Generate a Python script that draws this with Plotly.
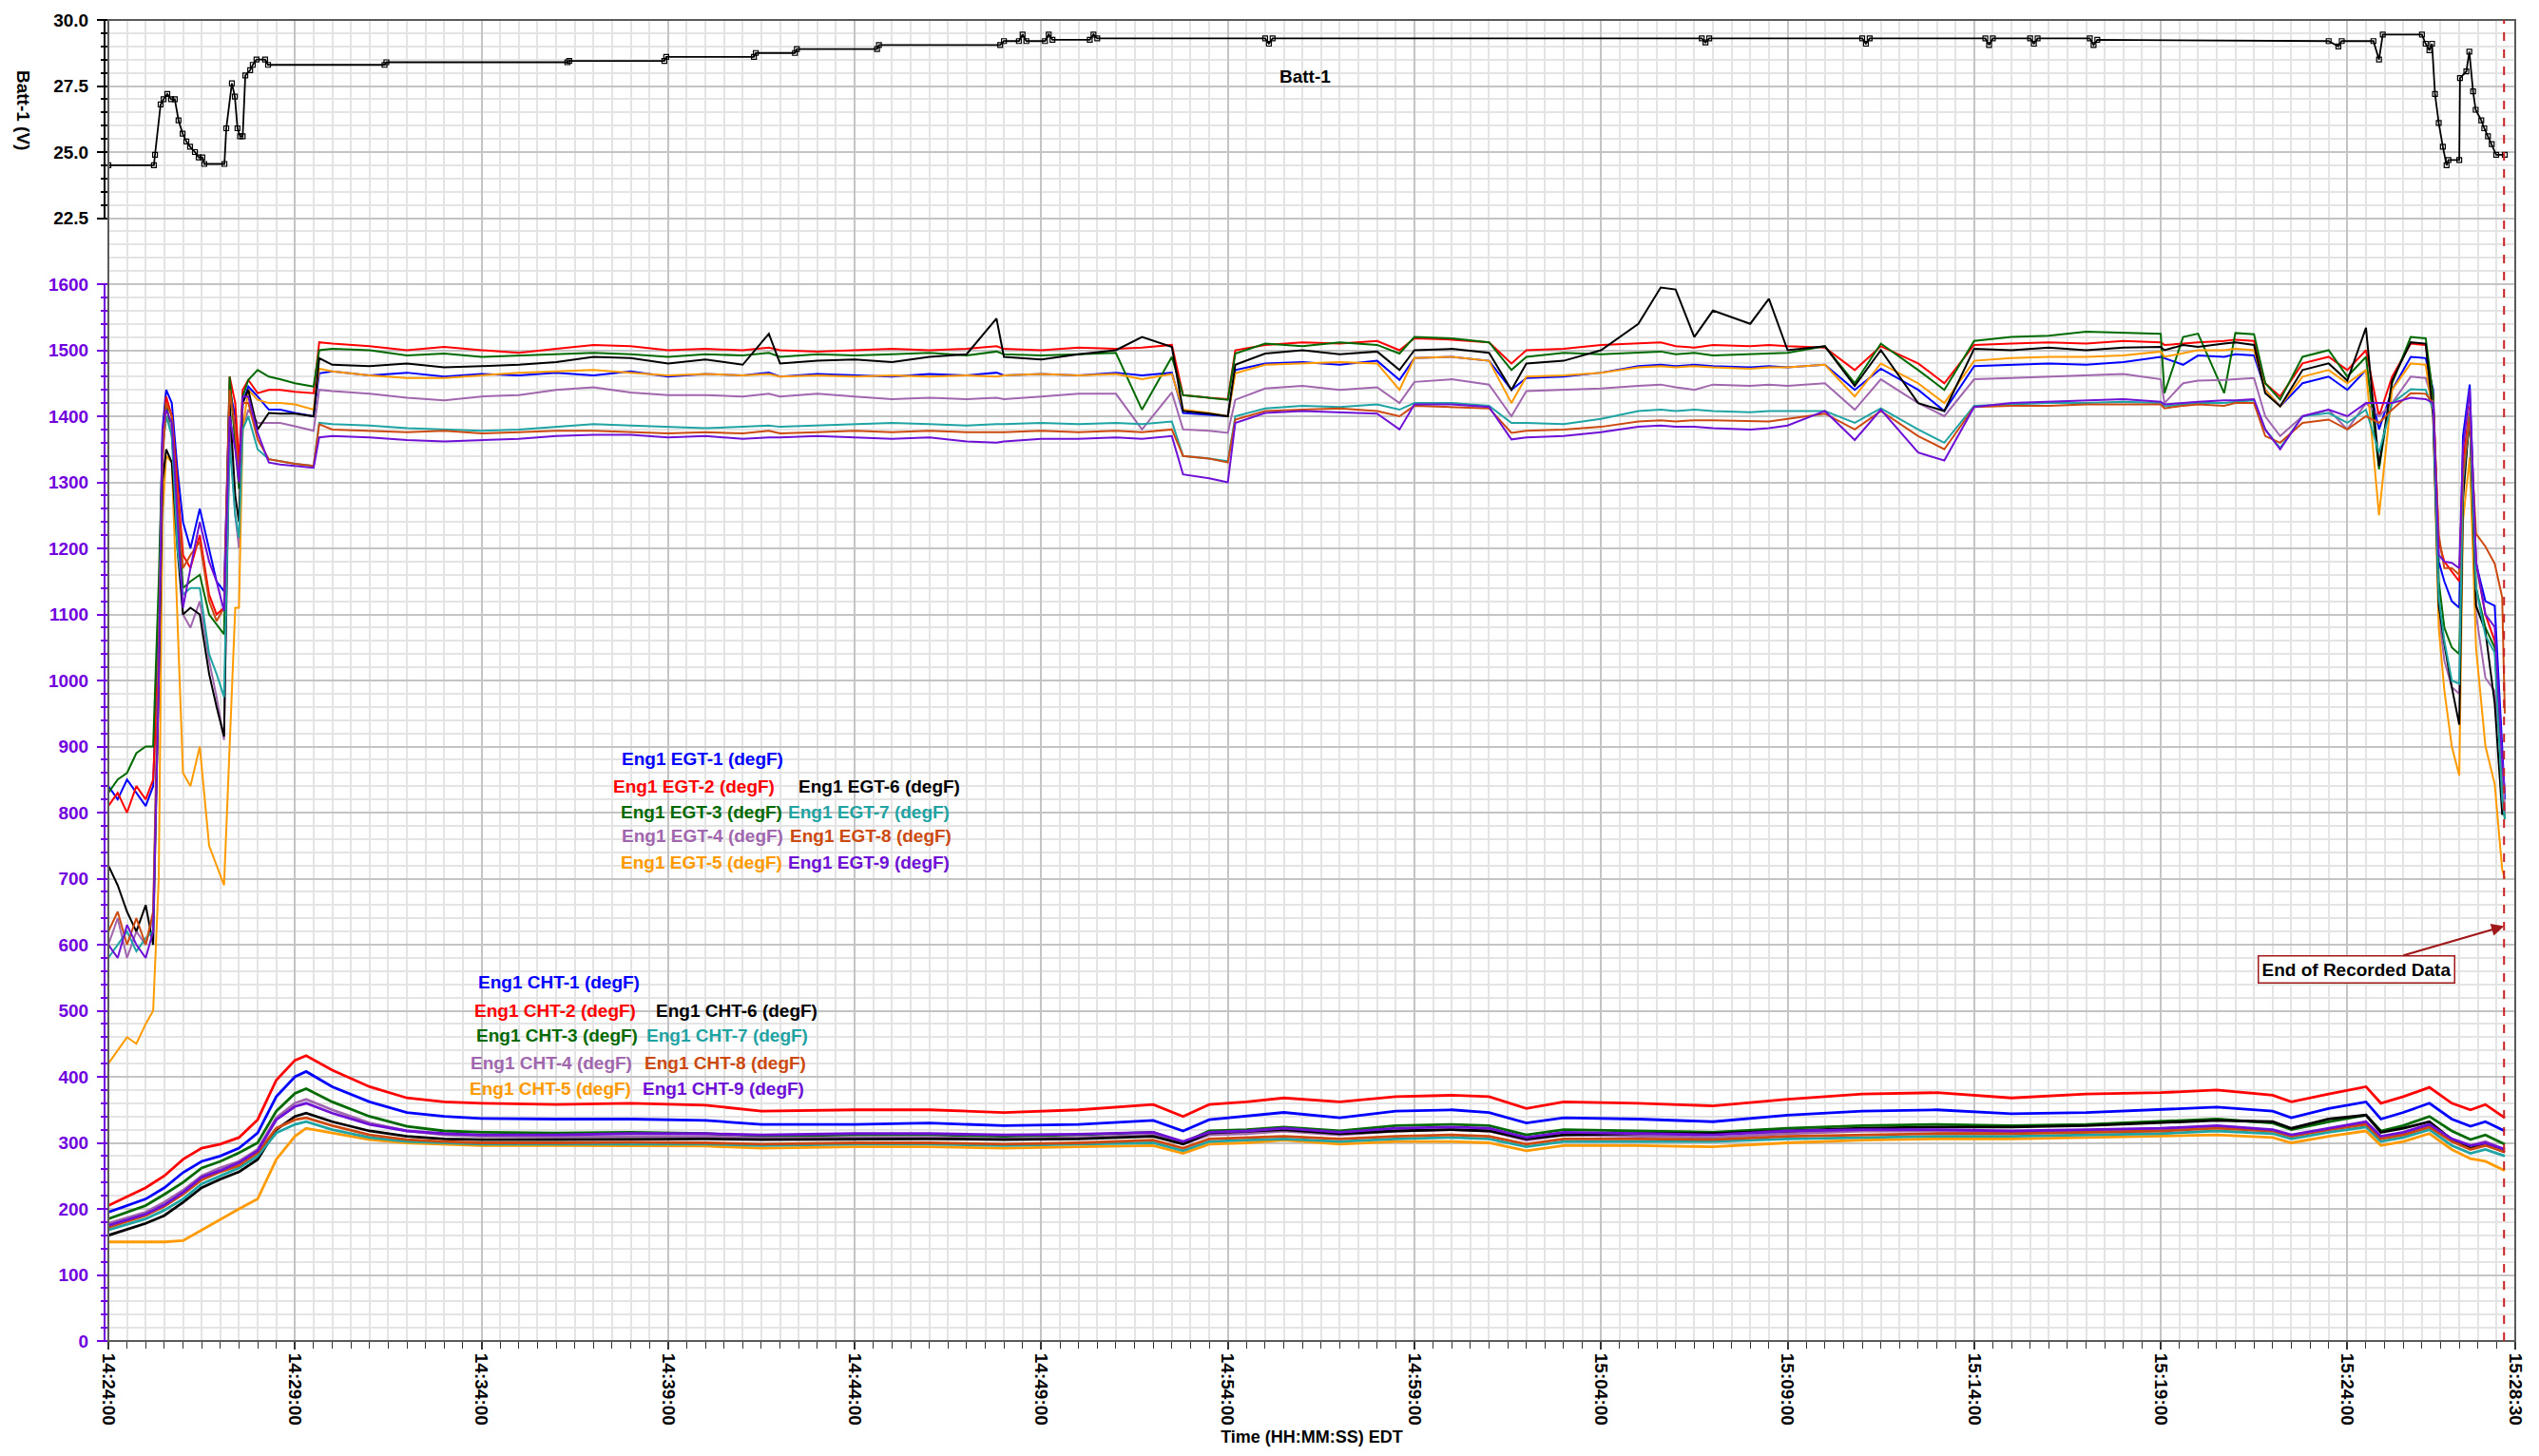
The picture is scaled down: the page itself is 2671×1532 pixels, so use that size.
import pandas as pd
import plotly.graph_objects as go

# ---------------- DATA ----------------
BASE = "2024-01-01 14:24:00"
END_OF_DATA_MIN = 64.2          # dashed marker: end of recorded data (minutes after 14:24:00)
AXIS_END_MIN = 64.5             # 15:28:30

x_tick_labels = ["14:24:00", "14:29:00", "14:34:00", "14:39:00", "14:44:00", "14:49:00",
                 "14:54:00", "14:59:00", "15:04:00", "15:09:00", "15:14:00", "15:19:00",
                 "15:24:00", "15:28:30"]
temp_ticks = [0, 100, 200, 300, 400, 500, 600, 700, 800, 900, 1000, 1100, 1200, 1300, 1400, 1500, 1600]
volt_ticks = [22.5, 25.0, 27.5, 30.0]
volt_tick_labels = ["22.5", "25.0", "27.5", "30.0"]

batt_minutes = [0, 1.22, 1.25, 1.40, 1.48, 1.58, 1.68, 1.78, 1.88, 1.99,
                2.09, 2.19, 2.32, 2.42, 2.52, 2.57, 3.11, 3.16, 3.31, 3.39,
                3.46, 3.53, 3.60, 3.67, 3.80, 3.87, 3.97, 4.20, 4.28, 7.40,
                7.45, 12.30, 12.35, 14.90, 14.95, 17.30, 17.35, 18.40, 18.45, 20.60,
                20.65, 23.90, 24.00, 24.40, 24.50, 24.60, 25.10, 25.20, 25.30, 26.30,
                26.40, 26.50, 31.00, 31.10, 31.20, 42.70, 42.80, 42.90, 47.00, 47.10,
                47.20, 50.30, 50.40, 50.50, 51.50, 51.60, 51.70, 53.10, 53.20, 53.30,
                59.50, 59.76, 59.85, 60.70, 60.85, 60.95, 62.00, 62.10, 62.20, 62.27,
                62.35, 62.45, 62.56, 62.66, 62.71, 63.00, 63.02, 63.19, 63.27, 63.37,
                63.44, 63.59, 63.67, 63.77, 63.87, 63.99, 64.22]
batt_volts = [24.5, 24.5, 24.9, 26.8, 27.0, 27.2, 27.0, 27.0, 26.2, 25.7,
              25.4, 25.2, 25.0, 24.8, 24.8, 24.55, 24.55, 25.9, 27.6, 27.1,
              25.9, 25.6, 25.6, 27.9, 28.1, 28.3, 28.5, 28.5, 28.3, 28.3,
              28.4, 28.4, 28.45, 28.45, 28.6, 28.6, 28.75, 28.75, 28.9, 28.9,
              29.05, 29.05, 29.2, 29.2, 29.45, 29.2, 29.2, 29.45, 29.25, 29.25,
              29.45, 29.3, 29.3, 29.1, 29.3, 29.3, 29.15, 29.3, 29.3, 29.1,
              29.3, 29.3, 29.05, 29.3, 29.3, 29.1, 29.3, 29.3, 29.05, 29.25,
              29.2, 29.0, 29.2, 29.2, 28.5, 29.45, 29.45, 29.1, 28.85, 29.1,
              27.2, 26.1, 25.2, 24.5, 24.7, 24.7, 27.8, 28.05, 28.8, 27.3,
              26.6, 26.2, 25.9, 25.6, 25.3, 24.9, 24.9]

egt_minutes = [0, 0.25, 0.5, 0.75, 1.0, 1.2, 1.35, 1.45, 1.55, 1.7,
               1.85, 2.0, 2.2, 2.45, 2.7, 2.9, 3.1, 3.25, 3.4, 3.5,
               3.6, 3.75, 4.0, 4.3, 4.6, 5.0, 5.5, 5.65, 6, 7,
               8, 9, 10, 11, 12, 13, 14, 15, 16, 17,
               17.7, 18, 19, 20, 21, 22, 23, 23.8, 24, 25,
               26, 27, 27.7, 28.5, 28.8, 29.5, 30.0, 30.2, 31, 32,
               33, 34, 34.6, 35, 36, 37, 37.6, 38, 39, 40,
               41, 41.6, 42, 42.5, 43, 44, 44.5, 45, 46, 46.8,
               47.5, 48.5, 49.2, 50, 51, 52, 53, 54, 55, 55.1,
               55.6, 56, 56.7, 57, 57.5, 57.8, 58.2, 58.8, 59.5, 60,
               60.5, 60.85, 61.2, 61.7, 62.1, 62.3, 62.45, 62.6, 62.8, 63.0,
               63.1, 63.28, 63.45, 63.7, 63.95, 64.15, 64.22]

egt1 = [840, 820, 850, 830, 810, 840, 1100, 1380, 1440, 1420,
        1320, 1240, 1200, 1260, 1200, 1150, 1135, 1440, 1400, 1300,
        1420, 1445, 1430, 1410, 1410, 1405, 1400, 1465, 1468, 1462,
        1466, 1460, 1464, 1462, 1466, 1462, 1468, 1460, 1464, 1462,
        1466, 1460, 1464, 1462, 1460, 1464, 1462, 1466, 1462, 1464,
        1462, 1466, 1462, 1466, 1405, 1402, 1400, 1470, 1480, 1482,
        1478, 1484, 1455, 1488, 1490, 1484, 1440, 1458, 1460, 1466,
        1476, 1478, 1476, 1478, 1476, 1474, 1476, 1474, 1478, 1440,
        1472, 1440, 1408, 1476, 1478, 1480, 1478, 1482, 1490, 1488,
        1478, 1492, 1490, 1494, 1492, 1440, 1415, 1450, 1460, 1440,
        1470, 1380, 1440, 1490, 1488, 1440, 1180, 1150, 1120, 1110,
        1370, 1448, 1177, 1120, 1113, 900, 820]
egt2 = [810, 830, 800, 840, 820, 850, 1050, 1360, 1430, 1400,
        1300, 1190, 1170, 1220, 1130, 1100, 1110, 1460, 1420, 1330,
        1440, 1455, 1435, 1440, 1440, 1437, 1435, 1512, 1510, 1506,
        1500, 1505, 1500, 1496, 1502, 1508, 1506, 1500, 1502, 1500,
        1504, 1500, 1498, 1500, 1502, 1500, 1502, 1506, 1502, 1500,
        1504, 1502, 1504, 1508, 1432, 1428, 1426, 1500, 1508, 1512,
        1510, 1514, 1500, 1518, 1516, 1512, 1480, 1500, 1502, 1508,
        1510, 1512, 1506, 1504, 1508, 1506, 1508, 1506, 1504, 1470,
        1506, 1480, 1450, 1508, 1510, 1512, 1510, 1514, 1512, 1508,
        1510, 1512, 1514, 1516, 1514, 1450, 1430, 1480, 1490, 1470,
        1500, 1400, 1460, 1510, 1508, 1430, 1210, 1180, 1165, 1150,
        1330, 1415, 1177, 1100, 1060, 880, 800]
egt3 = [830, 850, 860, 890, 900, 900, 1150, 1360, 1420, 1370,
        1260, 1140, 1150, 1160, 1100, 1085, 1070, 1460, 1350, 1290,
        1430, 1455, 1470, 1460, 1456, 1450, 1445, 1500, 1502, 1500,
        1492, 1495, 1490, 1492, 1494, 1496, 1494, 1490, 1494, 1492,
        1496, 1490, 1494, 1492, 1494, 1496, 1492, 1498, 1494, 1492,
        1494, 1496, 1410, 1490, 1432, 1428, 1425, 1495, 1510, 1506,
        1512, 1508, 1495, 1520, 1518, 1512, 1470, 1490, 1496, 1494,
        1496, 1498, 1494, 1496, 1492, 1494, 1496, 1496, 1506, 1450,
        1510, 1470, 1440, 1514, 1520, 1522, 1528, 1526, 1525, 1435,
        1520, 1525, 1435, 1526, 1524, 1450, 1425, 1490, 1500, 1460,
        1490, 1320, 1450, 1520, 1518, 1430, 1150, 1080, 1050, 1040,
        1290, 1400, 1140, 1080, 1050, 850, 790]
egt4 = [600, 640, 580, 620, 600, 640, 1000, 1350, 1400, 1380,
        1250, 1100, 1080, 1120, 1030, 975, 910, 1380, 1250, 1200,
        1380, 1410, 1390, 1390, 1390, 1385, 1378, 1440, 1438, 1434,
        1428, 1424, 1430, 1432, 1440, 1444, 1436, 1432, 1432, 1430,
        1434, 1430, 1434, 1430, 1426, 1428, 1426, 1428, 1426, 1430,
        1434, 1434, 1380, 1436, 1380, 1378, 1375, 1425, 1442, 1446,
        1440, 1444, 1420, 1452, 1456, 1448, 1400, 1438, 1440, 1442,
        1446, 1448, 1444, 1440, 1448, 1446, 1448, 1446, 1450, 1410,
        1456, 1420, 1400, 1456, 1458, 1460, 1462, 1464, 1456, 1420,
        1450, 1454, 1455, 1456, 1458, 1400, 1370, 1400, 1410, 1380,
        1420, 1400, 1420, 1460, 1458, 1420, 1100, 1030, 990, 980,
        1300, 1410, 1100, 1004, 984, 870, 800]
egt5 = [420, 440, 460, 450, 480, 500, 700, 1250, 1340, 1330,
        1100, 860, 840, 900, 750, 720, 690, 900, 1110, 1110,
        1380, 1440, 1425, 1420, 1420, 1418, 1410, 1472, 1468, 1462,
        1458, 1458, 1462, 1466, 1468, 1470, 1466, 1462, 1464, 1462,
        1464, 1460, 1462, 1460, 1462, 1460, 1462, 1460, 1462, 1464,
        1462, 1464, 1456, 1464, 1410, 1405, 1400, 1465, 1478, 1480,
        1482, 1480, 1440, 1488, 1490, 1484, 1420, 1460, 1462, 1466,
        1474, 1476, 1474, 1476, 1474, 1472, 1474, 1474, 1478, 1430,
        1480, 1450, 1420, 1484, 1488, 1490, 1490, 1492, 1498, 1490,
        1496, 1500, 1500, 1502, 1500, 1440, 1415, 1460, 1470, 1450,
        1470, 1250, 1440, 1480, 1478, 1400, 1080, 985, 900, 856,
        1242, 1338, 1049, 901, 843, 714, 700]
egt6 = [720, 690, 650, 620, 660, 600, 1000, 1300, 1350, 1330,
        1200, 1100, 1110, 1100, 1010, 960, 915, 1420, 1280, 1240,
        1420, 1440, 1380, 1405, 1404, 1404, 1400, 1488, 1478, 1476,
        1480, 1474, 1476, 1478, 1482, 1490, 1488, 1480, 1486, 1478,
        1525, 1480, 1484, 1486, 1482, 1490, 1494, 1548, 1490, 1486,
        1494, 1500, 1520, 1505, 1408, 1404, 1400, 1478, 1495, 1500,
        1494, 1498, 1470, 1500, 1502, 1496, 1440, 1480, 1484, 1500,
        1540, 1595, 1592, 1520, 1560, 1540, 1578, 1500, 1506, 1446,
        1500, 1420, 1408, 1502, 1500, 1504, 1500, 1504, 1505, 1500,
        1508, 1505, 1510, 1512, 1508, 1435, 1415, 1470, 1480, 1454,
        1534, 1325, 1454, 1512, 1510, 1400, 1113, 1055, 990, 933,
        1274, 1403, 1113, 1075, 965, 798, 798]
egt7 = [580, 600, 620, 590, 610, 620, 1050, 1350, 1400, 1370,
        1200, 1130, 1140, 1140, 1040, 1010, 975, 1360, 1250, 1216,
        1380, 1400, 1350, 1335, 1332, 1328, 1325, 1390, 1388, 1386,
        1382, 1380, 1378, 1380, 1384, 1388, 1386, 1384, 1382, 1384,
        1386, 1384, 1386, 1388, 1390, 1388, 1386, 1388, 1388, 1390,
        1388, 1390, 1388, 1392, 1340, 1336, 1332, 1400, 1412, 1416,
        1414, 1418, 1410, 1420, 1420, 1416, 1390, 1390, 1388, 1396,
        1408, 1410, 1408, 1410, 1408, 1406, 1408, 1408, 1408, 1390,
        1412, 1380, 1360, 1416, 1418, 1420, 1420, 1422, 1420, 1415,
        1418, 1420, 1420, 1422, 1424, 1380, 1352, 1400, 1405, 1390,
        1410, 1345, 1420, 1441, 1440, 1410, 1126, 1060, 1000, 995,
        1300, 1403, 1140, 1068, 1042, 820, 790]
egt8 = [620, 650, 600, 640, 600, 650, 1050, 1330, 1420, 1400,
        1280, 1170, 1190, 1210, 1120, 1090, 1110, 1440, 1380, 1300,
        1420, 1420, 1365, 1335, 1332, 1328, 1325, 1388, 1380, 1378,
        1376, 1378, 1374, 1376, 1378, 1378, 1376, 1374, 1376, 1374,
        1378, 1374, 1376, 1378, 1376, 1378, 1376, 1376, 1376, 1378,
        1376, 1378, 1376, 1380, 1340, 1336, 1330, 1395, 1408, 1410,
        1412, 1408, 1400, 1416, 1414, 1412, 1375, 1378, 1380, 1384,
        1392, 1394, 1392, 1394, 1394, 1392, 1392, 1396, 1404, 1380,
        1408, 1370, 1350, 1414, 1416, 1416, 1418, 1418, 1418, 1412,
        1416, 1418, 1416, 1420, 1420, 1370, 1360, 1390, 1395, 1380,
        1400, 1390, 1410, 1435, 1434, 1420, 1220, 1170, 1170, 1160,
        1310, 1400, 1222, 1203, 1177, 1126, 950]
egt9 = [600, 580, 630, 600, 580, 620, 1000, 1380, 1410, 1390,
        1250, 1110, 1170, 1240, 1180, 1150, 1105, 1400, 1350, 1300,
        1430, 1430, 1375, 1330, 1327, 1325, 1322, 1368, 1370, 1368,
        1364, 1362, 1364, 1366, 1370, 1372, 1372, 1368, 1370, 1366,
        1368, 1368, 1370, 1368, 1366, 1368, 1362, 1360, 1362, 1366,
        1366, 1368, 1366, 1370, 1312, 1306, 1300, 1390, 1405, 1408,
        1406, 1404, 1380, 1418, 1418, 1414, 1365, 1368, 1370, 1376,
        1384, 1386, 1384, 1384, 1382, 1380, 1382, 1386, 1408, 1364,
        1410, 1345, 1333, 1414, 1420, 1422, 1424, 1426, 1422, 1418,
        1420, 1422, 1424, 1424, 1426, 1380, 1350, 1400, 1410, 1400,
        1420, 1420, 1420, 1428, 1426, 1420, 1190, 1180, 1178, 1170,
        1351, 1440, 1180, 1100, 1081, 880, 830]

cht_minutes = [0, 1, 1.5, 2, 2.5, 3, 3.5, 4, 4.5, 5,
               5.3, 6, 7, 8, 9, 10, 12, 14, 16, 17.5,
               20, 22, 24, 26, 28, 28.8, 29.5, 30.5, 31.5, 33,
               34.5, 36, 37, 38, 39, 41, 43, 45, 47, 49,
               51, 53, 55, 56.5, 58, 58.5, 59.5, 60.5, 60.9, 61.5,
               62.2, 62.8, 63.3, 63.7, 64.22]

cht1 = [195, 215, 232, 255, 272, 280, 292, 315, 370, 400,
        408, 385, 362, 346, 340, 337, 336, 336, 334, 328,
        328, 330, 326, 328, 334, 318, 335, 340, 346, 338,
        348, 350, 346, 330, 338, 336, 332, 342, 348, 350,
        344, 346, 350, 354, 348, 338, 352, 362, 336, 346,
        360, 336, 325, 332, 318]
cht2 = [205, 232, 250, 275, 292, 298, 308, 335, 395, 425,
        432, 410, 385, 368, 362, 360, 358, 360, 357, 348,
        350, 350, 346, 350, 358, 340, 358, 362, 368, 362,
        370, 372, 370, 352, 362, 360, 356, 366, 374, 376,
        368, 374, 376, 380, 372, 362, 374, 385, 360, 370,
        384, 360, 350, 358, 338]
cht3 = [185, 205, 222, 240, 262, 272, 285, 300, 348, 375,
        382, 362, 340, 325, 318, 316, 315, 316, 314, 310,
        312, 312, 310, 312, 316, 300, 318, 320, 324, 318,
        326, 328, 326, 312, 320, 318, 316, 322, 326, 328,
        326, 328, 332, 336, 330, 320, 332, 342, 318, 326,
        340, 318, 305, 312, 298]
cht4 = [178, 195, 210, 228, 250, 262, 272, 290, 338, 360,
        366, 350, 330, 318, 312, 310, 309, 310, 310, 307,
        308, 308, 306, 308, 312, 298, 312, 314, 318, 312,
        318, 320, 318, 304, 312, 310, 308, 314, 318, 318,
        316, 318, 320, 324, 318, 310, 320, 330, 308, 314,
        326, 306, 296, 302, 290]
cht5 = [150, 150, 150, 152, 168, 185, 200, 215, 275, 310,
        322, 315, 305, 300, 298, 296, 296, 296, 295, 292,
        294, 294, 292, 294, 296, 284, 298, 300, 304, 298,
        302, 302, 300, 288, 296, 296, 294, 300, 304, 306,
        306, 308, 310, 312, 308, 300, 310, 318, 296, 302,
        314, 290, 276, 272, 258]
cht6 = [160, 178, 190, 210, 232, 245, 256, 275, 320, 340,
        345, 332, 318, 310, 306, 305, 305, 306, 306, 305,
        306, 306, 305, 306, 310, 298, 315, 318, 320, 314,
        318, 320, 318, 306, 312, 314, 314, 318, 322, 324,
        324, 326, 330, 334, 332, 322, 336, 342, 316, 322,
        332, 305, 292, 298, 286]
cht7 = [168, 185, 198, 215, 238, 250, 262, 280, 315, 328,
        332, 320, 308, 302, 300, 298, 298, 298, 298, 296,
        298, 298, 296, 298, 300, 288, 302, 304, 306, 302,
        306, 308, 306, 294, 302, 302, 302, 306, 308, 310,
        310, 312, 314, 318, 314, 306, 316, 324, 302, 308,
        320, 296, 284, 290, 280]
cht8 = [172, 190, 204, 222, 244, 256, 266, 285, 322, 335,
        338, 326, 312, 305, 302, 300, 300, 301, 300, 298,
        300, 300, 298, 300, 304, 292, 306, 308, 310, 306,
        310, 312, 310, 298, 306, 306, 305, 310, 312, 314,
        314, 316, 318, 322, 318, 310, 320, 328, 306, 312,
        324, 302, 290, 296, 286]
cht9 = [175, 192, 206, 225, 248, 258, 270, 288, 335, 355,
        360, 345, 328, 318, 314, 312, 312, 314, 314, 312,
        314, 314, 312, 313, 316, 302, 316, 318, 322, 316,
        322, 324, 322, 308, 316, 314, 312, 318, 320, 320,
        318, 320, 322, 326, 320, 312, 322, 332, 310, 316,
        328, 306, 296, 300, 290]

# ---------------- STYLE ----------------
W, H = 2671, 1532
ML, MR, MT, MB = 114, 25, 21, 121
PW, PH = W - ML - MR, H - MT - MB
FONT = "Liberation Sans, Arial, sans-serif"
PURPLE = "#7000DD"
MAJOR_GRID = "#C4C4C4"
MINOR_GRID = "#E4E4E4"
TEMP_MAX = 2000           # temperature axis extends behind the battery panel
VOLT_RANGE = [-20, 30]    # battery axis aligned so that 22.5..30 V sits above 1600 degF

series_colors = ["#0000FF", "#FF0000", "#006A00", "#A066AE", "#FF9A00",
                 "#000000", "#1FA3A3", "#CC4A10", "#6E10D6"]
egt_series = [egt1, egt2, egt3, egt4, egt5, egt6, egt7, egt8, egt9]
cht_series = [cht1, cht2, cht3, cht4, cht5, cht6, cht7, cht8, cht9]
for s in egt_series:
    assert len(s) == len(egt_minutes)
for s in cht_series:
    assert len(s) == len(cht_minutes)
assert len(batt_volts) == len(batt_minutes)

base = pd.Timestamp(BASE)


def times(mins):
    return [base + pd.Timedelta(minutes=m) for m in mins]


def px_x(px):
    return (px - ML) / PW


def px_y(py):
    return (H - MB - py) / PH


fig = go.Figure()

for i, (vals, col) in enumerate(zip(cht_series, series_colors)):
    fig.add_trace(go.Scatter(x=times(cht_minutes), y=vals, mode="lines",
                             line=dict(color=col, width=2.8), name=f"Eng1 CHT-{i+1} (degF)",
                             showlegend=False, yaxis="y"))
for i, (vals, col) in enumerate(zip(egt_series, series_colors)):
    fig.add_trace(go.Scatter(x=times(egt_minutes), y=vals, mode="lines",
                             line=dict(color=col, width=2), name=f"Eng1 EGT-{i+1} (degF)",
                             showlegend=False, yaxis="y"))

fig.add_trace(go.Scatter(x=times(batt_minutes), y=batt_volts, mode="lines+markers",
                         line=dict(color="black", width=1.8),
                         marker=dict(symbol="square-open", size=5, color="black",
                                     line=dict(width=1.2)),
                         name="Batt-1", showlegend=False, yaxis="y2"))
# grid-only helper axis for the battery panel region
fig.add_trace(go.Scatter(x=[], y=[], yaxis="y3", showlegend=False))

x_tickvals = [f"2024-01-01 {t}" for t in x_tick_labels]
tick_font = dict(family=FONT, size=19, color="black", weight="bold")

fig.update_layout(
    width=W, height=H,
    margin=dict(l=ML, r=MR, t=MT, b=MB),
    paper_bgcolor="white", plot_bgcolor="white",
    font=dict(family=FONT, size=19, color="black"),
    xaxis=dict(
        type="date",
        range=[base, base + pd.Timedelta(minutes=AXIS_END_MIN)],
        tickvals=x_tickvals, ticktext=x_tick_labels, tickangle=90,
        tickfont=tick_font, ticks="outside", ticklen=8, tickcolor="#333333", tickwidth=1.5,
        showgrid=True, gridcolor=MAJOR_GRID, gridwidth=1.5,
        minor=dict(dtick=30000, tick0=base, ticks="outside", ticklen=7,
                   tickcolor="#333333", tickwidth=1.2, showgrid=True, gridcolor=MINOR_GRID),
        showline=False, zeroline=False,
        title=dict(text="Time (HH:MM:SS) EDT",
                   font=dict(family=FONT, size=18, color="black", weight="bold"),
                   standoff=6),
    ),
    yaxis=dict(
        range=[0, TEMP_MAX],
        tickvals=temp_ticks, ticktext=[str(v) for v in temp_ticks],
        tickfont=dict(family=FONT, size=19, color=PURPLE, weight="bold"),
        ticks="outside", ticklen=11, tickcolor=PURPLE, tickwidth=2,
        ticklabelstandoff=5,
        showgrid=True, gridcolor=MAJOR_GRID, gridwidth=1.5,
        minor=dict(tickvals=[v for v in range(20, 1600, 20) if v % 100],
                   ticks="outside", ticklen=7, tickcolor=PURPLE, tickwidth=1.5,
                   showgrid=True, gridcolor=MINOR_GRID),
        showline=False, zeroline=False,
    ),
    yaxis3=dict(
        range=[0, TEMP_MAX], overlaying="y", side="left",
        tickvals=[1700, 1800, 1900], showticklabels=False, ticks="",
        showgrid=True, gridcolor=MAJOR_GRID, gridwidth=1.5,
        minor=dict(tickvals=[v for v in range(1620, 2000, 20) if v % 100],
                   ticks="", showgrid=True, gridcolor=MINOR_GRID),
        showline=False, zeroline=False,
    ),
    yaxis2=dict(
        range=VOLT_RANGE, overlaying="y", side="left",
        tickvals=volt_ticks, ticktext=volt_tick_labels,
        tickfont=tick_font, ticks="outside", ticklen=11, tickcolor="black", tickwidth=2,
        ticklabelstandoff=5,
        showgrid=False,
        minor=dict(tickvals=[v / 2 for v in range(46, 60) if v % 5],
                   ticks="outside", ticklen=7, tickcolor="black", tickwidth=1.5,
                   showgrid=False),
        showline=False, zeroline=False,
    ),
)

# plot frame and left spines
spine_dx = -4 / PW
fig.add_shape(type="rect", xref="paper", yref="paper", x0=0, x1=1, y0=0, y1=1,
              line=dict(color="#5A5A5A", width=2), layer="above")
fig.add_shape(type="line", xref="paper", yref="paper", x0=spine_dx, x1=spine_dx,
              y0=0, y1=1600 / TEMP_MAX, line=dict(color=PURPLE, width=2))
fig.add_shape(type="line", xref="paper", yref="paper", x0=spine_dx, x1=spine_dx,
              y0=1700 / TEMP_MAX, y1=1, line=dict(color="black", width=2))

# end-of-data dashed marker
end_time = base + pd.Timedelta(minutes=END_OF_DATA_MIN)
fig.add_shape(type="line", xref="x", yref="paper", x0=end_time, x1=end_time, y0=0, y1=1,
              line=dict(color="#C82020", width=2, dash="dash"))
fig.add_annotation(x=end_time, y=628, xref="x", yref="y",
                   text="End of Recorded Data", showarrow=True,
                   ax=-155, ay=45, arrowhead=2, arrowsize=1.2, arrowwidth=2.2,
                   arrowcolor="#A01818", bordercolor="#A01818", borderwidth=1.5,
                   borderpad=3, bgcolor="white",
                   font=dict(family=FONT, size=19, color="black", weight="bold"))

# battery labels
fig.add_annotation(x=px_x(1373), y=px_y(80), xref="paper", yref="paper",
                   xanchor="center", yanchor="middle",
                   text="Batt-1", showarrow=False,
                   font=dict(family=FONT, size=19, color="black", weight="bold"))
fig.add_annotation(x=px_x(25), y=px_y(116), xref="paper", yref="paper",
                   xanchor="center", yanchor="middle",
                   text="Batt-1 (V)", textangle=90, showarrow=False,
                   font=dict(family=FONT, size=19, color="black", weight="bold"))

# text legends
egt_legend_px = [(653, 798), (644, 827), (652, 854), (653, 879), (652, 907),
                 (839, 827), (828, 854), (830, 879), (828, 907)]
cht_legend_px = [(502, 1033), (498, 1063), (500, 1089), (494, 1118), (493, 1145),
                 (689, 1063), (679, 1089), (677, 1118), (675, 1145)]
for i, col in enumerate(series_colors):
    for kind, pos in (("EGT", egt_legend_px[i]), ("CHT", cht_legend_px[i])):
        fig.add_annotation(x=px_x(pos[0]), y=px_y(pos[1]), xref="paper", yref="paper",
                           xanchor="left", yanchor="middle", showarrow=False,
                           text=f"Eng1 {kind}-{i+1} (degF)", borderpad=0,
                           font=dict(family=FONT, size=19, color=col, weight="bold"))

fig.write_html("out.html", config={"displayModeBar": False},
               post_script="document.body.style.margin='0';")
